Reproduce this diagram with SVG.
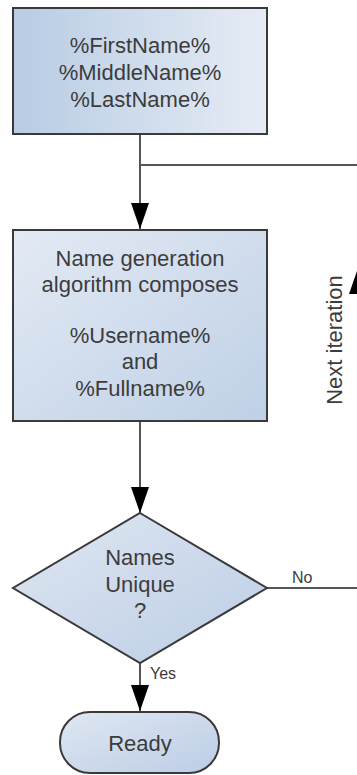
<svg xmlns="http://www.w3.org/2000/svg" width="357" height="775" viewBox="0 0 357 775">
  <style>
    .node { stroke: #3a3a3a; stroke-width: 2; }
    .lbl { font-family: "Liberation Sans", Arial, sans-serif; font-size: 22px; fill: #3c3c3c; text-anchor: middle; }
    .small { font-family: "Liberation Sans", Arial, sans-serif; font-size: 16px; fill: #3c3c3c; }
    .edge { stroke: #555; stroke-width: 2; fill: none; }
  </style>
  <defs>
    <linearGradient id="g1" x1="0" y1="0" x2="1" y2="0">
      <stop offset="0" stop-color="#b8cce4"/>
      <stop offset="1" stop-color="#e6ecf5"/>
    </linearGradient>
    <linearGradient id="g2" x1="0" y1="0" x2="1" y2="1">
      <stop offset="0" stop-color="#e3eaf4"/>
      <stop offset="1" stop-color="#bfd0e6"/>
    </linearGradient>
    <linearGradient id="g3" x1="0" y1="0" x2="1" y2="1">
      <stop offset="0" stop-color="#dfe7f2"/>
      <stop offset="1" stop-color="#bccde5"/>
    </linearGradient>
    <marker id="arrd" viewBox="0 0 26 18" refX="26" refY="9" markerWidth="26" markerHeight="18" markerUnits="userSpaceOnUse" orient="auto">
      <path d="M0,0 L26,9 L0,18 Z" fill="#000"/>
    </marker>
  </defs>

  <g id="connectors">
    <line class="edge" x1="140" y1="134" x2="140" y2="229" marker-end="url(#arrd)"/>
    <line class="edge" x1="140" y1="165" x2="362" y2="165"/>
    <line class="edge" x1="140" y1="421" x2="140" y2="513" marker-end="url(#arrd)"/>
    <line class="edge" x1="140" y1="663" x2="140" y2="711" marker-end="url(#arrd)"/>
    <line class="edge" x1="267" y1="588" x2="362" y2="588"/>
    <line class="edge" x1="358" y1="588" x2="358" y2="268" marker-end="url(#arrd)"/>
    <line class="edge" x1="358" y1="280" x2="358" y2="165"/>
    <text class="small" x="292" y="583">No</text>
    <text class="small" x="150" y="679">Yes</text>
    <text class="lbl" transform="translate(342,340) rotate(-90)">Next iteration</text>
  </g>

  <g id="names-input">
    <rect class="node" x="13" y="8" width="254" height="126" fill="url(#g1)"/>
    <text class="lbl" x="140" y="53">%FirstName%</text>
    <text class="lbl" x="140" y="80">%MiddleName%</text>
    <text class="lbl" x="140" y="107">%LastName%</text>
  </g>

  <g id="name-generation">
    <rect class="node" x="13" y="230" width="254" height="191" fill="url(#g2)"/>
    <text class="lbl" x="140" y="266">Name generation</text>
    <text class="lbl" x="140" y="292">algorithm composes</text>
    <text class="lbl" x="140" y="343">%Username%</text>
    <text class="lbl" x="140" y="369">and</text>
    <text class="lbl" x="140" y="396">%Fullname%</text>
  </g>

  <g id="names-unique">
    <polygon class="node" points="140,513 267,588 140,663 13,588" fill="url(#g3)"/>
    <text class="lbl" x="140" y="565">Names</text>
    <text class="lbl" x="140" y="592">Unique</text>
    <text class="lbl" x="140" y="618">?</text>
  </g>

  <g id="ready">
    <rect class="node" x="60" y="712" width="159" height="61" rx="30" ry="30" fill="url(#g3)"/>
    <text class="lbl" x="140" y="751">Ready</text>
  </g>
</svg>
